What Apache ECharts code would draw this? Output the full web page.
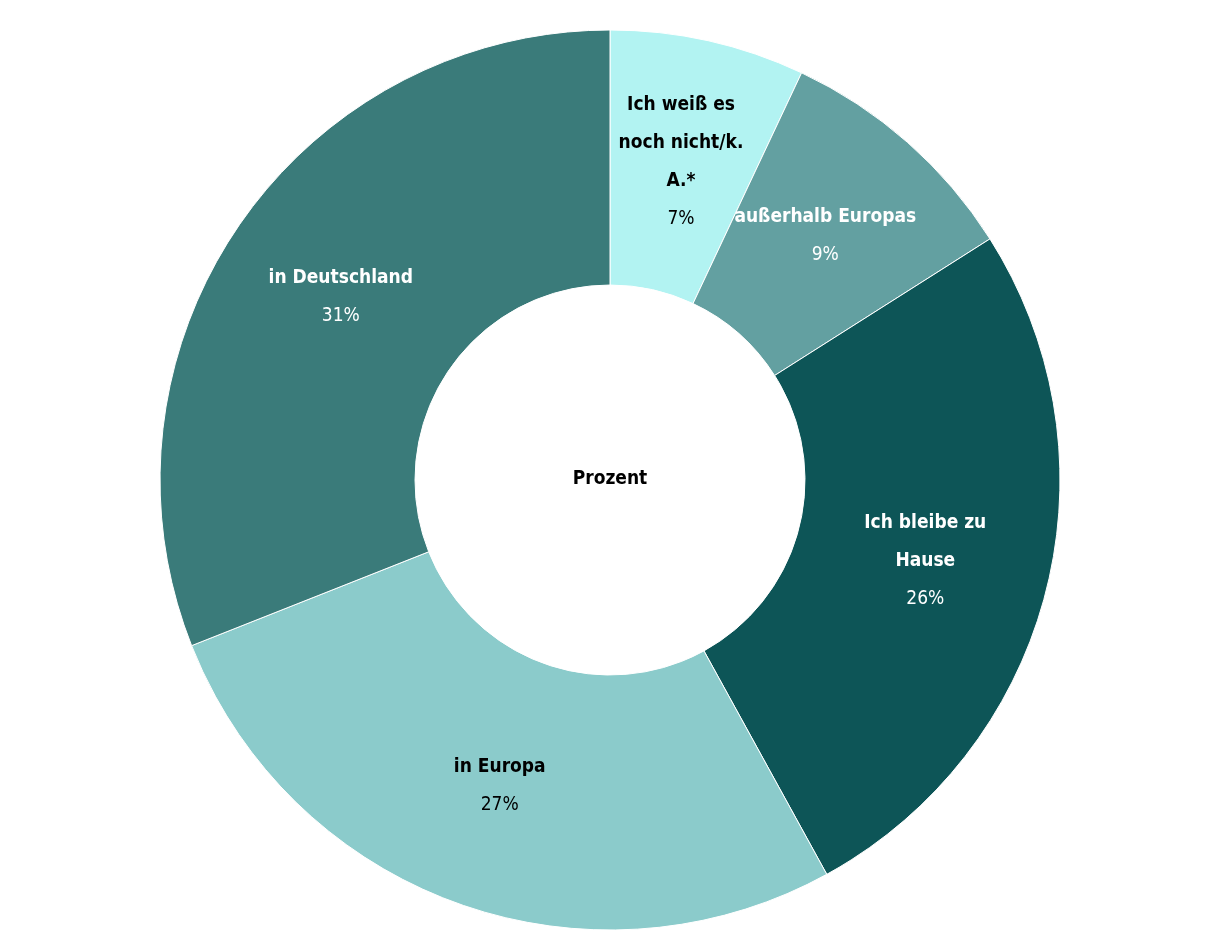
<!DOCTYPE html>
<html>
<head>
<meta charset="utf-8">
<script src="https://cdn.jsdelivr.net/npm/echarts@6/dist/echarts.min.js"></script>
<style>
html,body{margin:0;padding:0;background:#fff;}
#c{width:1220px;height:940px;}
</style>
</head>
<body>
<div id="c"></div>
<script>
const categories = ["Ich weiß es noch nicht/k. A.*", "außerhalb Europas", "Ich bleibe zu Hause", "in Europa", "in Deutschland"];
const labelLines = ["Ich weiß es\nnoch nicht/k.\nA.*", "außerhalb Europas", "Ich bleibe zu\nHause", "in Europa", "in Deutschland"];
const values = [7, 9, 26, 27, 31];
const colors = ["#b2f3f2", "#63a0a1", "#0d5557", "#8bcbcb", "#3a7b7a"];
const textColors = ["#000", "#fff", "#fff", "#000", "#fff"];
const centerLabel = "Prozent";

const FONT = '"Liberation Sans Narrow", "DejaVu Sans Condensed", "Roboto Condensed", sans-serif';
const FS = 19;

const chart = echarts.init(document.getElementById('c'));
chart.setOption({
  animation: false,
  title: {
    text: centerLabel,
    left: 'center',
    top: 465,
    textStyle: { fontFamily: FONT, fontWeight: 'bold', fontSize: FS, color: '#000' }
  },
  series: [{
    type: 'pie',
    center: [610, 480],
    radius: [195, 450],
    startAngle: 90,
    clockwise: true,
    avoidLabelOverlap: false,
    minShowLabelAngle: 0,
    labelLayout: { hideOverlap: false },
    itemStyle: { borderColor: '#fff', borderWidth: 1 },
    label: {
      show: true,
      position: 'inside',
      fontFamily: FONT,
      fontSize: FS,
      lineHeight: 38,
      align: 'center',
      formatter: function (p) {
        const lines = labelLines[p.dataIndex].split('\n').map(s => '{n|' + s + '}').join('\n');
        return lines + '\n{v|' + p.value + '%}';
      }
    },
    labelLine: { show: false },
    emphasis: { disabled: true },
    data: categories.map((name, i) => ({
      name: name,
      value: values[i],
      itemStyle: { color: colors[i] },
      label: { color: textColors[i], rich: {
        n: { color: textColors[i], fontFamily: FONT, fontWeight: 'bold', fontSize: FS, lineHeight: 38 },
        v: { color: textColors[i], fontFamily: FONT, fontWeight: 'normal', fontSize: FS, lineHeight: 38 }
      } }
    }))
  }]
});
</script>
</body>
</html>
